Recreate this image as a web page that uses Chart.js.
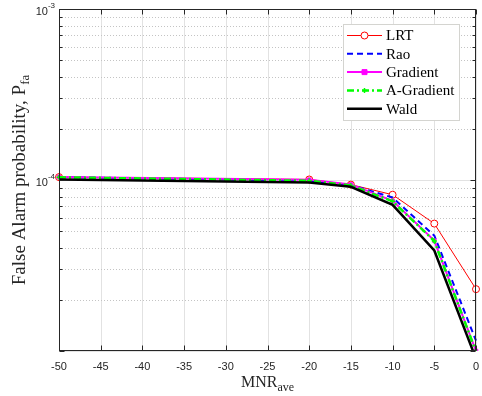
<!DOCTYPE html>
<html>
<head>
<meta charset="utf-8">
<script src="https://cdn.jsdelivr.net/npm/chart.js@4.4.1/dist/chart.umd.min.js"></script>
<style>
    html, body { margin: 0; padding: 0; background: #fff; }
    #wrap { width: 482px; height: 396px; }
</style>
</head>
<body>
<div id="wrap"><canvas id="pfaChart" width="482" height="396"></canvas></div>
<script>
/* ===========================
   FALSE ALARM PROBABILITY VS MNR
   =========================== */

const mnr = [-50, -20, -15, -10, -5, 0];

const lrt       = [1.04e-4, 1.007e-4, 9.4e-5, 8.2e-5, 5.56e-5, 2.3e-5];
const rao       = [1.04e-4, 9.9e-5, 9.35e-5, 7.9e-5, 4.73e-5, 1.15e-5];
const gradient  = [1.042e-4, 1.005e-4, 9.42e-5, 7.55e-5, 4.42e-5, 1.0e-5];
const aGradient = [1.037e-4, 9.9e-5, 9.3e-5, 7.5e-5, 4.4e-5, 9.9e-6];
const wald      = [1.007e-4, 9.67e-5, 9.12e-5, 7.16e-5, 3.87e-5, 9.0e-6];

const seriesNames = ['LRT', 'Rao', 'Gradient', 'A-Gradient', 'Wald'];
const xTicks = [-50, -45, -40, -35, -30, -25, -20, -15, -10, -5, 0];
const yDecades = [1e-5, 1e-4, 1e-3];
const yLabelled = [1e-3, 1e-4];

const AXIS_COLOR = '#262626';
const SANS = '"Liberation Sans", Arial, sans-serif';
const SERIF = '"Liberation Serif", "Times New Roman", serif';

function toPoints(values) {
    return mnr.map((m, i) => ({ x: m, y: values[i] }));
}

// grid, box, ticks, legend and labels in MATLAB style
const matlabFrame = {
    id: 'matlabFrame',
    beforeDatasetsDraw(chart) {
        const { ctx, chartArea: a, scales: { x, y } } = chart;
        ctx.save();
        ctx.lineWidth = 1;

        // vertical major grid
        ctx.strokeStyle = '#e2e2e2';
        xTicks.forEach(v => {
            const px = Math.round(x.getPixelForValue(v)) + 0.5;
            ctx.beginPath();
            ctx.moveTo(px, a.top);
            ctx.lineTo(px, a.bottom);
            ctx.stroke();
        });

        // horizontal minor grid (dotted)
        ctx.strokeStyle = '#c4c4c4';
        ctx.setLineDash([1, 2]);
        for (let d = 0; d < yDecades.length - 1; d++) {
            for (let m = 2; m <= 9; m++) {
                const py = Math.round(y.getPixelForValue(m * yDecades[d])) + 0.5;
                ctx.beginPath();
                ctx.moveTo(a.left, py);
                ctx.lineTo(a.right, py);
                ctx.stroke();
            }
        }
        ctx.setLineDash([]);

        // horizontal major grid
        ctx.strokeStyle = '#e2e2e2';
        yDecades.forEach(v => {
            const py = Math.round(y.getPixelForValue(v)) + 0.5;
            ctx.beginPath();
            ctx.moveTo(a.left, py);
            ctx.lineTo(a.right, py);
            ctx.stroke();
        });
        ctx.restore();
    },
    afterDatasetsDraw(chart) {
        const { ctx, chartArea: a, scales: { x, y } } = chart;
        ctx.save();
        ctx.lineWidth = 1;
        ctx.strokeStyle = AXIS_COLOR;

        const l = Math.round(a.left) + 0.5, r = Math.round(a.right) - 0.5;
        const t = Math.round(a.top) + 0.5, b = Math.round(a.bottom) - 0.5;
        ctx.strokeRect(l, t, r - l, b - t);

        // x ticks on bottom and top
        ctx.beginPath();
        xTicks.forEach(v => {
            const px = Math.round(x.getPixelForValue(v)) + 0.5;
            ctx.moveTo(px, b); ctx.lineTo(px, b - 5);
            ctx.moveTo(px, t); ctx.lineTo(px, t + 5);
        });
        // y ticks on left and right, major + minor
        for (let d = 0; d < yDecades.length - 1; d++) {
            for (let m = 1; m <= 9; m++) {
                const py = Math.round(y.getPixelForValue(m * yDecades[d])) + 0.5;
                const len = m === 1 ? 5 : 3;
                ctx.moveTo(l, py); ctx.lineTo(l + len, py);
                ctx.moveTo(r, py); ctx.lineTo(r - len, py);
            }
        }
        ctx.stroke();

        // legend
        const lx = 343, ly = 24, lw = 116, lh = 96;
        ctx.fillStyle = '#ffffff';
        ctx.fillRect(lx, ly, lw, lh);
        ctx.strokeStyle = '#d4d4d0';
        ctx.strokeRect(lx + 0.5, ly + 0.5, lw, lh);

        ctx.font = '15px ' + SERIF;
        ctx.textBaseline = 'middle';
        ctx.textAlign = 'left';
        chart.data.datasets.forEach((ds, i) => {
            const rowY = ly + 11.5 + i * 18.3;
            ctx.strokeStyle = ds.borderColor;
            ctx.lineWidth = ds.borderWidth;
            ctx.setLineDash(ds.borderDash || []);
            ctx.beginPath();
            ctx.moveTo(347, rowY);
            ctx.lineTo(382, rowY);
            ctx.stroke();
            ctx.setLineDash([]);
            if (ds.pointRadius > 0) {
                ctx.fillStyle = ds.pointBackgroundColor;
                ctx.strokeStyle = ds.pointBorderColor;
                ctx.lineWidth = ds.pointBorderWidth;
                ctx.beginPath();
                const s = ds.pointRadius;
                if (ds.pointStyle === 'circle') {
                    ctx.arc(364.5, rowY, s, 0, Math.PI * 2);
                    ctx.fill(); ctx.stroke();
                } else if (ds.pointStyle === 'rect') {
                    ctx.rect(364.5 - s, rowY - s, 2 * s, 2 * s);
                    ctx.fill(); ctx.stroke();
                } else {
                    ctx.moveTo(364.5 - s, rowY); ctx.lineTo(364.5 + s, rowY);
                    ctx.moveTo(364.5, rowY - s); ctx.lineTo(364.5, rowY + s);
                    ctx.stroke();
                }
            }
            ctx.fillStyle = '#000000';
            ctx.fillText(ds.label, 386, rowY + 1);
        });
        ctx.restore();
    },
    afterDraw(chart) {
        const { ctx, chartArea: a, scales: { y } } = chart;
        ctx.save();
        ctx.fillStyle = AXIS_COLOR;
        ctx.textAlign = 'left';

        // y tick labels: 10 with superscript exponent
        yLabelled.forEach(v => {
            const py = y.getPixelForValue(v);
            const exp = String(Math.round(Math.log10(v)));
            ctx.font = '11px ' + SANS;
            const wBase = ctx.measureText('10').width;
            ctx.font = '8px ' + SANS;
            const wExp = ctx.measureText(exp).width;
            const x0 = a.left - 4 - wBase - wExp;
            ctx.textBaseline = 'middle';
            ctx.font = '11px ' + SANS;
            ctx.fillText('10', x0, py + 3);
            ctx.font = '8px ' + SANS;
            ctx.fillText(exp, x0 + wBase, py - 3);
        });

        // y axis title
        ctx.textBaseline = 'alphabetic';
        ctx.save();
        ctx.translate(25, (a.top + a.bottom) / 2);
        ctx.rotate(-Math.PI / 2);
        ctx.font = '19px ' + SERIF;
        const yMain = 'False Alarm probability, P';
        const wMain = ctx.measureText(yMain).width;
        ctx.font = '13px ' + SERIF;
        const wSub = ctx.measureText('fa').width;
        const start = -(wMain + wSub) / 2;
        ctx.font = '19px ' + SERIF;
        ctx.fillText(yMain, start, 0);
        ctx.font = '13px ' + SERIF;
        ctx.fillText('fa', start + wMain, 4);
        ctx.restore();

        // x axis title
        ctx.font = '16px ' + SERIF;
        const wx = ctx.measureText('MNR').width;
        ctx.font = '12px ' + SERIF;
        const wxs = ctx.measureText('ave').width;
        const cx = (a.left + a.right) / 2 - (wx + wxs) / 2;
        ctx.font = '16px ' + SERIF;
        ctx.fillText('MNR', cx, 387);
        ctx.font = '12px ' + SERIF;
        ctx.fillText('ave', cx + wx, 391);
        ctx.restore();
    }
};

const styles = [
    { borderColor: '#ff0000', borderWidth: 1, pointStyle: 'circle', pointRadius: 3.5,
      pointBackgroundColor: '#ffffff', pointBorderColor: '#ff0000', pointBorderWidth: 1, order: 5 },
    { borderColor: '#0000ff', borderWidth: 2, borderDash: [6, 4], pointRadius: 0, order: 4 },
    { borderColor: '#ff00ff', borderWidth: 2, pointStyle: 'rect', pointRadius: 2.5,
      pointBackgroundColor: '#ff00ff', pointBorderColor: '#ff00ff', pointBorderWidth: 1, order: 3 },
    { borderColor: '#00ff00', borderWidth: 2.5, borderDash: [7, 3, 2, 3], pointStyle: 'cross', pointRadius: 2.5,
      pointBackgroundColor: '#00ff00', pointBorderColor: '#00ff00', pointBorderWidth: 1.5, order: 2 },
    { borderColor: '#000000', borderWidth: 2.5, pointRadius: 0, order: 1 }
];

const seriesValues = [lrt, rao, gradient, aGradient, wald];

new Chart(document.getElementById('pfaChart'), {
    type: 'line',
    data: {
        datasets: seriesNames.map((name, i) => Object.assign({
            label: name,
            data: toPoints(seriesValues[i]),
            tension: 0,
            fill: false,
            clip: { left: 6, top: 6, right: 6, bottom: 0 }
        }, styles[i]))
    },
    options: {
        responsive: false,
        animation: false,
        layout: { autoPadding: false, padding: { top: 9, right: 6, left: 0, bottom: 0 } },
        plugins: { legend: { display: false }, tooltip: { enabled: false } },
        scales: {
            x: {
                type: 'linear',
                min: -50,
                max: 0,
                grid: { display: false, drawTicks: false },
                border: { display: false },
                afterBuildTicks: s => { s.ticks = xTicks.map(v => ({ value: v })); },
                afterFit: s => {
                    s.height = 45;
                    s.paddingLeft = 0;
                    s.paddingRight = 0;
                },
                ticks: {
                    autoSkip: false,
                    maxRotation: 0,
                    padding: 9,
                    color: AXIS_COLOR,
                    font: { family: SANS, size: 11 },
                    callback: v => String(v)
                }
            },
            y: {
                type: 'logarithmic',
                min: yDecades[0],
                max: yDecades[yDecades.length - 1],
                grid: { display: false },
                border: { display: false },
                ticks: { display: false },
                afterFit: s => { s.width = 59; }
            }
        }
    },
    plugins: [matlabFrame]
});
</script>
</body>
</html>
